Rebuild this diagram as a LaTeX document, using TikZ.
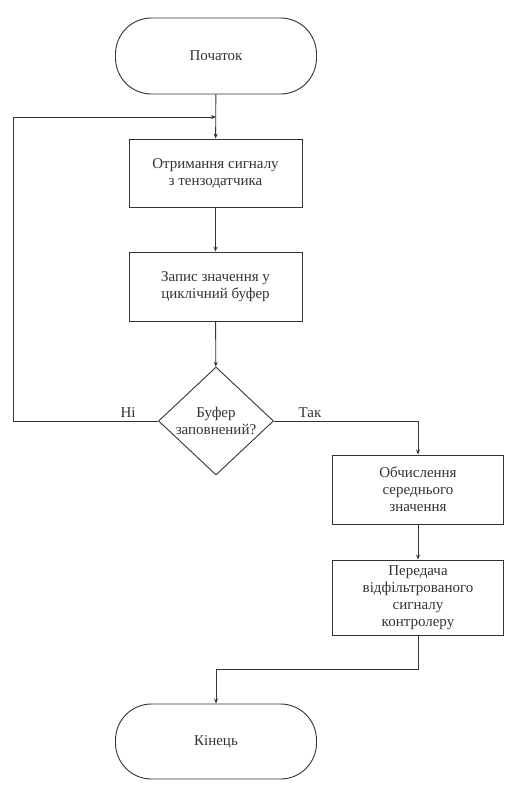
\documentclass[tikz,border=0pt]{standalone}
\usepackage{fontspec}
\setmainfont{Liberation Serif}
\usetikzlibrary{shapes.geometric,arrows.meta}

\definecolor{ink}{HTML}{333333}

\tikzset{
  base/.style={draw=ink, line width=0.9pt, align=center, inner sep=0pt,
               font=\fontsize{15}{17}\selectfont, text=ink},
  term/.style={base, rectangle, rounded corners=36pt,
               minimum width=201pt, minimum height=76pt},
  proc/.style={base, rectangle, minimum width=173pt, minimum height=68pt},
  dec/.style={base, diamond, aspect=1.06, minimum width=115pt, minimum height=108pt},
  flow/.style={draw=ink, line width=0.9pt, -{Stealth[length=5pt,width=4pt]}},
  tag/.style={font=\fontsize{15}{17}\selectfont, text=ink, inner sep=0pt}
}

\begin{document}
\begin{tikzpicture}[x=1pt, y=-1pt]
  \useasboundingbox (0,0) rectangle (509,787);

  % blocks
  \node[term] (start) at (216,56) {Початок};
  \node[proc] (p1) at (215.5,173) {Отримання сигналу\\з тензодатчика};
  \node[proc, minimum height=69pt] (p2) at (215.5,286.5) {Запис значення у\\циклічний буфер};
  \node[dec] (d) at (216,421) {Буфер\\заповнений?};
  \node[proc, minimum width=171pt, minimum height=69pt] (p3) at (418,489.5)
       {Обчислення\\середнього\\значення};
  \node[proc, minimum width=171pt, minimum height=75pt] (p4) at (418,597.5)
       {Передача\\відфільтрованого\\сигналу\\контролеру};
  \node[term, minimum height=75pt] (end) at (216,741.5) {Кінець};

  % branch labels
  \node[tag] (no) at (128,413) {Ні};
  \node[tag] (yes) at (310,413) {Так};

  % helper points for the loop and the final bend
  \coordinate (loopl) at (13,117);
  \coordinate (join) at (216,117);
  \coordinate (bend) at (418,669);

  % connectors
  \draw[flow] (start) -- (p1);
  \draw[flow] (p1) -- (p2);
  \draw[flow] (p2) -- (d);
  \draw[flow] (d.west) -| (loopl) -- (join);
  \draw[flow] (d.east) -| (p3.north);
  \draw[flow] (p3) -- (p4);
  \draw[flow] (p4.south) -- (bend) -| (end.north);
\end{tikzpicture}
\end{document}
